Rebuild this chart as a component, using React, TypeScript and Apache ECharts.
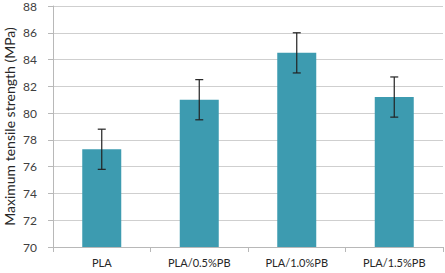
import React, { useEffect, useRef } from "react";
import * as echarts from "echarts";

const categories = ["PLA", "PLA/0.5%PB", "PLA/1.0%PB", "PLA/1.5%PB"];
const values = [77.3, 81.0, 84.5, 81.2];
const errLow = [75.8, 79.5, 83.0, 79.7];
const errHigh = [78.8, 82.5, 86.0, 82.7];
const yTitle = "Maximum tensile strength (MPa)";

export default function App() {
  const ref = useRef<HTMLDivElement>(null);
  useEffect(() => {
    if (!ref.current) return;
    const chart = echarts.init(ref.current, undefined, { renderer: "svg" });
    const font = "Lato, 'Open Sans', sans-serif";
    chart.setOption({
      animation: false,
      textStyle: { fontFamily: font },
      grid: { left: 53, right: 2, top: 6, bottom: 26, containLabel: false, outerBoundsMode: "none" },
      xAxis: {
        type: "category",
        data: categories,
        axisLine: { show: true, lineStyle: { color: "#b8b8b8" } },
        axisTick: { show: true, alignWithLabel: false, length: 5, lineStyle: { color: "#b8b8b8" } },
        axisLabel: { color: "#262626", fontSize: 11, margin: 10, fontFamily: font },
      },
      yAxis: {
        type: "value",
        min: 70,
        max: 88,
        interval: 2,
        name: yTitle,
        nameLocation: "middle",
        nameGap: 37,
        nameMoveOverlap: false,
        nameRotate: 90,
        nameTextStyle: { color: "#262626", fontSize: 14, lineHeight: 14, fontFamily: font },
        axisLine: { show: true, lineStyle: { color: "#b8b8b8" } },
        axisTick: { show: true, length: 5, lineStyle: { color: "#b8b8b8" } },
        axisLabel: { color: "#404040", fontSize: 12, margin: 16, fontFamily: font },
        splitLine: { show: true, lineStyle: { color: "#cfcfcf", width: 1 } },
      },
      series: [
        {
          type: "bar",
          data: values,
          barWidth: "40%",
          itemStyle: { color: "#3d9bb0" },
        },
        {
          type: "custom",
          data: categories.map((_, i) => [i, errLow[i], errHigh[i]]),
          renderItem: (params: any, api: any) => {
            const x = api.value(0);
            const lo = api.coord([x, api.value(1)]);
            const hi = api.coord([x, api.value(2)]);
            const hw = 4;
            const style = { stroke: "#222", lineWidth: 1.2 };
            return {
              type: "group",
              children: [
                { type: "line", shape: { x1: hi[0], y1: hi[1], x2: lo[0], y2: lo[1] }, style },
                { type: "line", shape: { x1: hi[0] - hw, y1: hi[1], x2: hi[0] + hw, y2: hi[1] }, style },
                { type: "line", shape: { x1: lo[0] - hw, y1: lo[1], x2: lo[0] + hw, y2: lo[1] }, style },
              ],
            };
          },
          z: 10,
        },
      ],
    });
    return () => chart.dispose();
  }, []);
  return <div ref={ref} style={{ width: 445, height: 273, position: "absolute", left: 0, top: 0 }} />;
}
